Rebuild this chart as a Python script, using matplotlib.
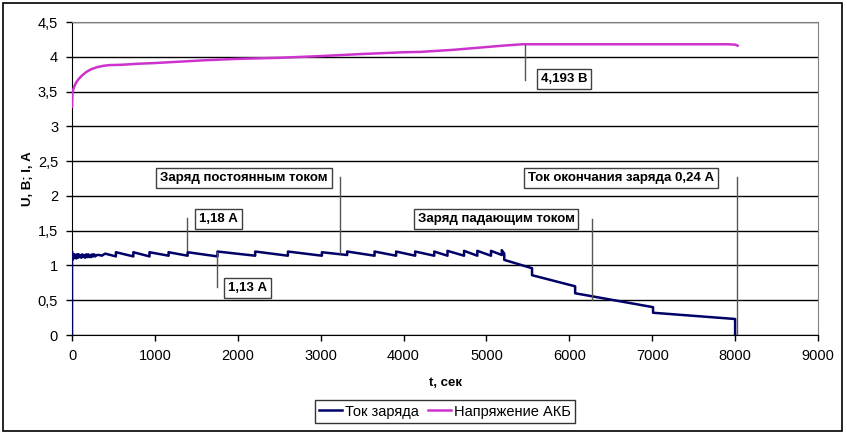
import matplotlib
matplotlib.use("Agg")
import matplotlib.pyplot as plt
from matplotlib.patches import Rectangle
from matplotlib.ticker import FuncFormatter

# Данные: ток заряда
t_cur = [0, 0, 5, 12, 20, 28, 36, 44, 52, 60, 70, 80, 90, 100, 112, 124, 136, 148, 160,
         172, 184, 196, 208, 220, 232, 244, 256, 268, 280, 300, 330, 360, 400,
         530, 530, 740, 740, 935, 935, 1165, 1165, 1395, 1395, 1755, 1755,
         2210, 2210, 2605, 2605, 3015, 3015, 3320, 3320, 3650, 3650, 3910, 3910,
         4140, 4140, 4370, 4370, 4530, 4530, 4730, 4730, 4890, 4890, 5055, 5055,
         5185, 5185, 5215, 5215, 5550, 5550, 6070, 6070, 7010, 7010, 8000, 8000]
i_cur = [0, 1.20, 1.08, 1.16, 1.10, 1.16, 1.11, 1.15, 1.10, 1.16, 1.11, 1.16, 1.12, 1.15, 1.11, 1.16, 1.12, 1.15, 1.11,
         1.16, 1.12, 1.16, 1.12, 1.15, 1.12, 1.16, 1.13, 1.16, 1.13, 1.15, 1.15, 1.14, 1.17,
         1.13, 1.19, 1.13, 1.19, 1.13, 1.19, 1.14, 1.19, 1.14, 1.19, 1.13, 1.20,
         1.14, 1.20, 1.14, 1.20, 1.14, 1.19, 1.15, 1.20, 1.14, 1.20, 1.14, 1.20,
         1.14, 1.20, 1.14, 1.20, 1.14, 1.21, 1.14, 1.21, 1.14, 1.21, 1.14, 1.21,
         1.15, 1.22, 1.17, 1.08, 0.96, 0.86, 0.70, 0.60, 0.40, 0.32, 0.23, 0.0]

# Данные: напряжение АКБ
t_v = [0, 5, 15, 30, 50, 80, 120, 170, 230, 300, 380, 450, 600, 800, 1000, 1300, 1600,
       2000, 2500, 3000, 3500, 4000, 4200, 4600, 5000, 5200, 5430, 6000, 7000, 7900, 8000, 8030]
u_v = [3.28, 3.48, 3.53, 3.58, 3.63, 3.68, 3.73, 3.78, 3.82, 3.85, 3.87, 3.88, 3.885, 3.90, 3.91, 3.93, 3.95,
       3.97, 3.985, 4.01, 4.04, 4.065, 4.07, 4.10, 4.14, 4.16, 4.18, 4.18, 4.18, 4.18, 4.175, 4.16]

# Подписи (текст, x, y) и выноски (x, y1, y2)
labels = ["4,193 В", "Заряд постоянным током", "1,18 А", "1,13 А",
          "Заряд падающим током", "Ток окончания заряда 0,24 А"]
label_x = [5935, 2075, 1767, 2123, 5115, 6623]
label_y = [3.68, 2.26, 1.67, 0.68, 1.67, 2.26]
lead_x = [5465, 3233, 1387, 1749, 6273, 8023]
lead_y1 = [4.17, 2.27, 1.68, 1.19, 1.67, 2.27]
lead_y2 = [3.67, 1.18, 1.22, 0.69, 0.50, 0.0]

plt.rcParams['font.family'] = ["Liberation Sans", "DejaVu Sans"]

fig = plt.figure(figsize=(8.47, 4.36), dpi=100)
ax = fig.add_axes([72 / 847, 1 - 335 / 436, 746 / 847, 313 / 436])

ax.set_xlim(0, 9000)
ax.set_ylim(0, 4.5)
ax.set_xticks(range(0, 9001, 1000))
ax.set_yticks([k * 0.5 for k in range(10)])
ax.yaxis.set_major_formatter(FuncFormatter(lambda v, p: ("%g" % v).replace(".", ",")))
ax.grid(axis="y", color="black", lw=1)
ax.set_axisbelow(True)
for s in ["top", "right"]:
    ax.spines[s].set_color("#808080")
for s in ["left", "bottom"]:
    ax.spines[s].set_color("black")
ax.tick_params(direction="out", length=4, width=1, color="black", labelsize=10.5, pad=6)

ax.plot(t_cur, i_cur, color="#000066", lw=1.8, label="Ток заряда", zorder=3)
ax.plot(t_v, u_v, color="#CC33CC", lw=1.8, label="Напряжение АКБ", zorder=3)

for k in range(len(labels)):
    ax.plot([lead_x[k], lead_x[k]], [lead_y1[k], lead_y2[k]], color="#555555", lw=1, zorder=4)
    ax.text(label_x[k], label_y[k], labels[k], ha="center", va="center", fontsize=9.5,
            fontweight="bold", zorder=5,
            bbox=dict(boxstyle="square,pad=0.3", fc="white", ec="#404040", lw=1))

ax.set_xlabel("t, сек", fontsize=9.5, fontweight="bold", labelpad=10)
ax.set_ylabel("U, В; I, А", fontsize=9.5, fontweight="bold", labelpad=3)

leg = fig.legend(loc="center", bbox_to_anchor=(445 / 847, 1 - 411.5 / 436), ncol=2,
                 frameon=True, fancybox=False, edgecolor="black", handlelength=1.6,
                 handletextpad=0.2, columnspacing=0.6, borderpad=0.3,
                 prop={"size": 10.5})
leg.get_frame().set_linewidth(1)

fig.patches.append(Rectangle((3 / 847, 5 / 436), 839 / 847, 428 / 436, transform=fig.transFigure,
                             fill=False, ec="black", lw=1.2))

fig.savefig("out.png", dpi=100)
